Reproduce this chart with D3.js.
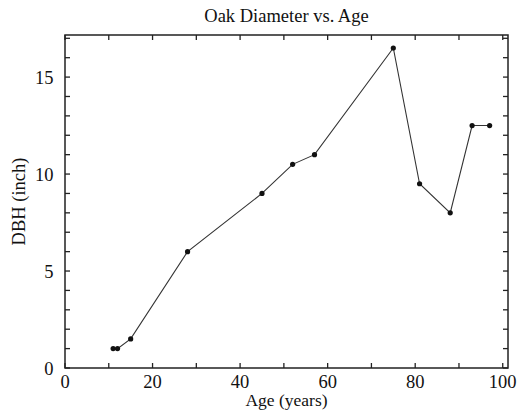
<!DOCTYPE html>
<html>
<head>
<meta charset="utf-8">
<script src="https://cdn.jsdelivr.net/npm/d3@7"></script>
<style>
  html, body { margin: 0; padding: 0; background: #fff; }
  svg text { font-family: "Liberation Serif", "Times New Roman", serif; fill: #111; }
</style>
</head>
<body>
<svg id="chart" width="518" height="411"></svg>
<script>
// Oak trees: age in years vs. diameter at breast height in inches
const ages = [11, 12, 15, 28, 45, 52, 57, 75, 81, 88, 93, 97];
const dbh  = [1, 1, 1.5, 6, 9, 10.5, 11, 16.5, 9.5, 8, 12.5, 12.5];
const xTickLabels = [0, 20, 40, 60, 80, 100];
const yTickLabels = [0, 5, 10, 15];

const svg = d3.select("#chart");
const margin = { left: 65, right: 10, top: 35, bottom: 43 };
const W = 518, H = 411;

const x = d3.scaleLinear().domain([0, 101.2]).range([margin.left, W - margin.right]);
const y = d3.scaleLinear().domain([0, 17.17]).range([H - margin.bottom, margin.top]);

const x0 = x.range()[0], x1 = x.range()[1];
const y0 = y.range()[0], y1 = y.range()[1];
const tickLen = 5;

// Frame with inward ticks on all four sides
const g = svg.append("g").attr("stroke", "#222").attr("stroke-width", 1.3);
const xTicks = d3.range(0, 101, 10);
const yTicks = d3.range(0, 18, 1);

xTicks.forEach(t => {
  g.append("line").attr("x1", x(t)).attr("x2", x(t)).attr("y1", y0).attr("y2", y0 - tickLen);
  g.append("line").attr("x1", x(t)).attr("x2", x(t)).attr("y1", y1).attr("y2", y1 + tickLen);
});
yTicks.forEach(t => {
  g.append("line").attr("y1", y(t)).attr("y2", y(t)).attr("x1", x0).attr("x2", x0 + tickLen);
  g.append("line").attr("y1", y(t)).attr("y2", y(t)).attr("x1", x1).attr("x2", x1 - tickLen);
});
svg.append("rect")
  .attr("x", x0).attr("y", y1).attr("width", x1 - x0).attr("height", y0 - y1)
  .attr("fill", "none").attr("stroke", "#222").attr("stroke-width", 1.5);

// Tick labels
const fs = 18.5;
svg.append("g").selectAll("text").data(xTickLabels).join("text")
  .attr("x", d => x(d)).attr("y", y0 + 20)
  .attr("text-anchor", "middle").attr("font-size", fs)
  .text(d => d);
svg.append("g").selectAll("text").data(yTickLabels).join("text")
  .attr("x", x0 - 11.5).attr("y", d => y(d) + 7)
  .attr("text-anchor", "end").attr("font-size", fs)
  .text(d => d);

// Data line and markers
const pts = ages.map((a, i) => [a, dbh[i]]);
svg.append("path")
  .datum(pts)
  .attr("fill", "none").attr("stroke", "#333").attr("stroke-width", 1.1)
  .attr("d", d3.line().x(d => x(d[0])).y(d => y(d[1])));
svg.append("g").selectAll("circle").data(pts).join("circle")
  .attr("cx", d => x(d[0])).attr("cy", d => y(d[1])).attr("r", 2.6)
  .attr("fill", "#111");

// Titles
svg.append("text").attr("x", (x0 + x1) / 2).attr("y", 22)
  .attr("text-anchor", "middle").attr("font-size", fs).text("Oak Diameter vs. Age");
svg.append("text").attr("x", (x0 + x1) / 2).attr("y", 406)
  .attr("text-anchor", "middle").attr("font-size", 17.5).text("Age (years)");
svg.append("text")
  .attr("transform", `translate(25, ${(y0 + y1) / 2}) rotate(-90)`)
  .attr("text-anchor", "middle").attr("font-size", fs).text("DBH (inch)");
</script>
</body>
</html>
